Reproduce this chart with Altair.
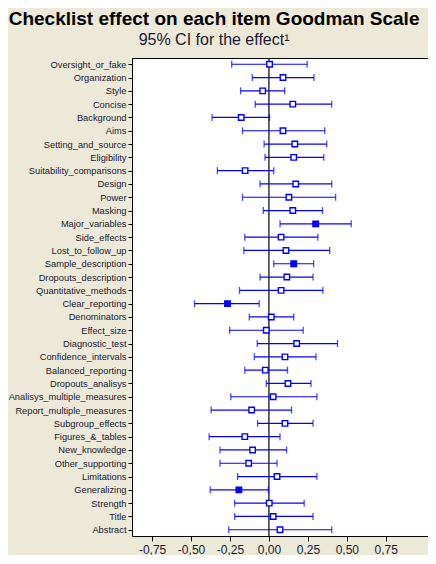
import altair as alt
import pandas as pd

items = [
    "Oversight_or_fake", "Organization", "Style", "Concise", "Background", "Aims",
    "Setting_and_source", "Eligibility", "Suitability_comparisons", "Design", "Power",
    "Masking", "Major_variables", "Side_effects", "Lost_to_follow_up",
    "Sample_description", "Dropouts_description", "Quantitative_methods",
    "Clear_reporting", "Denominators", "Effect_size", "Diagnostic_test",
    "Confidence_intervals", "Balanced_reporting", "Dropouts_analisys",
    "Analisys_multiple_measures", "Report_multiple_measures", "Subgroup_effects",
    "Figures_&_tables", "New_knowledge", "Other_supporting", "Limitations",
    "Generalizing", "Strength", "Title", "Abstract",
]
effect = [
    0.004, 0.090, -0.040, 0.153, -0.178, 0.090,
    0.166, 0.159, -0.153, 0.172, 0.128,
    0.153, 0.300, 0.078, 0.109,
    0.159, 0.115, 0.078,
    -0.266, 0.015, -0.017, 0.178,
    0.103, -0.023, 0.122,
    0.027, -0.111, 0.103,
    -0.155, -0.105, -0.130, 0.052,
    -0.193, 0.002, 0.027, 0.071,
]
ci_low = [
    -0.239, -0.107, -0.182, -0.088, -0.365, -0.170,
    -0.031, -0.025, -0.331, -0.057, -0.170,
    -0.036, 0.071, -0.155, -0.161,
    0.031, -0.057, -0.189,
    -0.478, -0.126, -0.252, -0.075,
    -0.094, -0.155, -0.017,
    -0.245, -0.371, -0.073,
    -0.384, -0.314, -0.314, -0.201,
    -0.377, -0.220, -0.220, -0.258,
]
ci_high = [
    0.245, 0.289, 0.101, 0.403, 0.004, 0.358,
    0.371, 0.352, 0.031, 0.403, 0.428,
    0.344, 0.528, 0.314, 0.390,
    0.287, 0.283, 0.346,
    -0.063, 0.159, 0.220, 0.440,
    0.302, 0.119, 0.270,
    0.308, 0.145, 0.283,
    0.071, 0.113, 0.052, 0.308,
    -0.004, 0.226, 0.283, 0.403,
]
significant = [
    0, 0, 0, 0, 0, 0,
    0, 0, 0, 0, 0,
    0, 1, 0, 0,
    1, 0, 0,
    1, 0, 0, 0,
    0, 0, 0,
    0, 0, 0,
    0, 0, 0, 0,
    1, 0, 0, 0,
]
x_ticks = [-0.75, -0.5, -0.25, 0.0, 0.25, 0.5, 0.75]
x_domain = [-0.879, 1.021]

df = pd.DataFrame({
    "item": items, "effect": effect, "lo": ci_low, "hi": ci_high, "sig": significant,
})
zero = pd.DataFrame({"z": [0.0]})

BLUE = "#0000FF"
FONT = "Liberation Sans"

xscale = alt.Scale(domain=x_domain, nice=False, zero=False)
yenc = alt.Y(
    "item:N", sort=items, title=None,
    scale=alt.Scale(type="point", padding=0.47),
    axis=alt.Axis(
        labelFont=FONT, labelFontSize=9.3, labelColor="#1a1a33",
        tickSize=4, tickColor="#000000", labelPadding=2, domain=False, grid=False,
    ),
)
xaxis = alt.Axis(
    values=x_ticks, grid=False, domain=False, tickSize=5, tickColor="#000000",
    labelFont=FONT, labelFontSize=12, labelColor="#1a1a33", labelPadding=3,
    labelExpr="replace(replace(format(datum.value, '.2f'), '.', ','), '\u2212', '-')",
    title=None,
)

base = alt.Chart(df)

zero_line = alt.Chart(zero).mark_rule(color="#000000", strokeWidth=1.2).encode(
    x=alt.X("z:Q", scale=xscale, axis=xaxis)
)
ci_line = base.mark_rule(color=BLUE, strokeWidth=1.2).encode(
    x=alt.X("lo:Q", scale=xscale, axis=xaxis), x2="hi:Q", y=yenc
)
cap_lo = base.mark_tick(color=BLUE, thickness=1.3, size=7, orient="vertical").encode(
    x=alt.X("lo:Q", scale=xscale, axis=xaxis), y=yenc
)
cap_hi = base.mark_tick(color=BLUE, thickness=1.3, size=7, orient="vertical").encode(
    x=alt.X("hi:Q", scale=xscale, axis=xaxis), y=yenc
)
points = base.mark_point(shape="square", size=30, strokeWidth=1.4, color=BLUE, opacity=1).encode(
    x=alt.X("effect:Q", scale=xscale, axis=xaxis),
    y=yenc,
    fill=alt.condition(alt.datum.sig == 1, alt.value(BLUE), alt.value("#FFFFFF")),
)

chart = alt.layer(zero_line, ci_line, cap_lo, cap_hi, points).properties(
    width=296,
    height=478,
    autosize=alt.AutoSizeParams(type="none"),
    padding={"left": 124, "top": 50, "right": 0, "bottom": 19},
    title=alt.TitleParams(
        text="Checklist effect on each item Goodman Scale",
        subtitle="95% CI for the effect\u00b9",
        font=FONT, fontSize=19, fontWeight="bold", color="#000000",
        subtitleFont=FONT, subtitleFontSize=16, subtitleColor="#1a1a33",
        subtitlePadding=3,
        anchor="middle", frame="bounds", dx=-4, offset=9,
    ),
).configure(
    background="#ECE9D8",
).configure_view(
    stroke="#000000", strokeWidth=1, fill="#FFFFFF",
)

chart.save("out.html", embed_options={"renderer": "svg", "actions": False})
